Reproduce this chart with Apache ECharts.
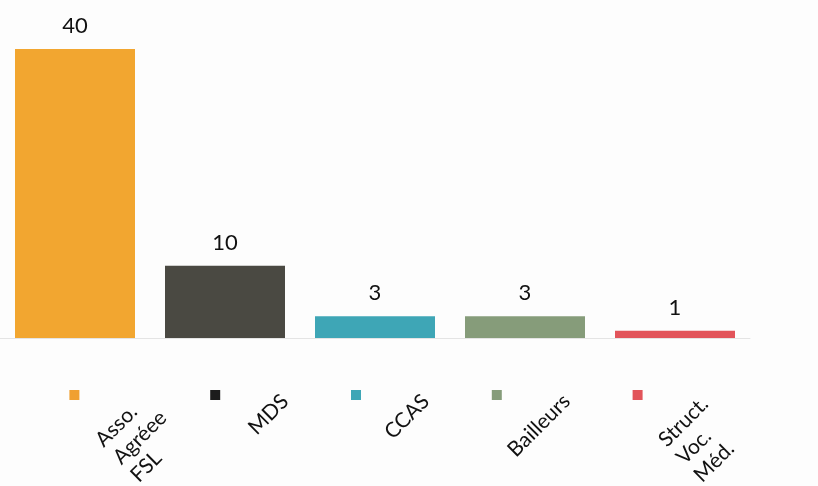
<!DOCTYPE html>
<html lang="fr">
<head>
	<meta charset="UTF-8">
	<title>Orienteurs</title>
	<style>
	body, div {
		margin: 0;
		padding: 0;
	}
	#echart {
		width: 818px;
		height: 486px;
		background: #fdfdfd;
	}
	</style>
</head>
<body>
	<div id="echart"></div>

	<script src="https://cdn.jsdelivr.net/npm/echarts@6/dist/echarts.min.js"></script>

	<script>
var categories = ['Asso. Agréee FSL', 'MDS', 'CCAS', 'Bailleurs', 'Struct. Voc. Méd.'];
var values = [40, 10, 3, 3, 1];
var legendLabels = ['Asso.\nAgréee\nFSL', 'MDS', 'CCAS', 'Bailleurs', 'Struct.\nVoc.\nMéd.'];
var barColors = ['#f2a630', '#4a4942', '#3ea6b6', '#869c7a', '#e2545a'];
var keyColors = ['#f0a030', '#1c1c1c', '#3ea6b6', '#869c7a', '#e2545a'];

var font = 'Lato, "Open Sans", sans-serif';

var myEchart = echarts.init(document.getElementById('echart'));

var option = {
    backgroundColor: '#fdfdfd',
    animation: false,
    grid: [
        { left: -2, right: 68, top: 49, bottom: 148 },
        // zone de la légende
        { left: 4, right: 110, top: 380, height: 30 }
    ],
    xAxis: [
        {
            type: 'category',
            gridIndex: 0,
            data: categories,
            axisLine: { lineStyle: { color: '#e4e4e4' } },
            axisTick: { show: false },
            axisLabel: { show: false }
        },
        {
            type: 'category',
            gridIndex: 1,
            data: categories,
            show: false
        }
    ],
    yAxis: [
        { type: 'value', gridIndex: 0, min: 0, max: 40, show: false },
        { type: 'value', gridIndex: 1, min: 0, max: 2, show: false }
    ],
    series: [
        {
            type: 'bar',
            xAxisIndex: 0,
            yAxisIndex: 0,
            barWidth: 120,
            data: values.map(function (v, i) {
                return { value: v, itemStyle: { color: barColors[i] } };
            }),
            label: {
                show: true,
                position: 'top',
                distance: 12,
                color: '#111',
                fontSize: 22,
                fontFamily: font
            }
        },
        {
            type: 'scatter',
            xAxisIndex: 1,
            yAxisIndex: 1,
            symbol: 'rect',
            symbolSize: 10,
            data: categories.map(function (c, i) {
                return { value: 1, itemStyle: { color: keyColors[i], opacity: 1 } };
            }),
            label: {
                show: true,
                position: [66, -1],
                rotate: 45,
                align: 'right',
                verticalAlign: 'top',
                formatter: function (p) {
                    var lines = legendLabels[p.dataIndex].split('\n');
                    if (lines.length === 1) return '{s|' + lines[0] + '}';
                    return lines.map(function (l) { return '{m|' + l + '}'; }).join('\n');
                },
                rich: {
                    s: { fontSize: 21, fontFamily: font, color: '#111', lineHeight: 25 },
                    m: { fontSize: 21, fontFamily: font, color: '#111', lineHeight: 25, width: 64, align: 'left' }
                }
            }
        }
    ]
};

myEchart.setOption(option);
	</script>
</body>
</html>
